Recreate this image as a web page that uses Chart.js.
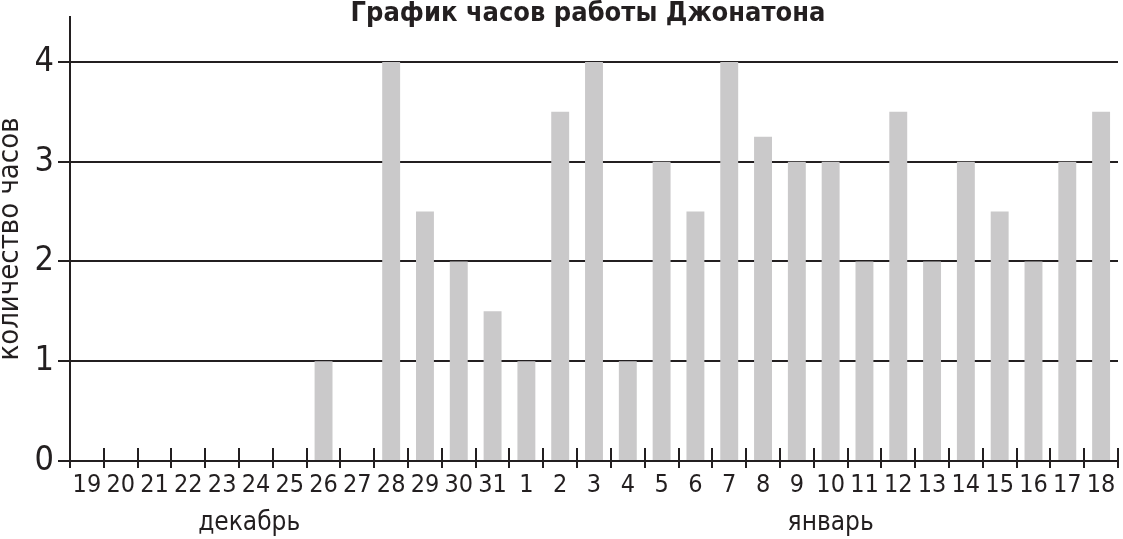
<!DOCTYPE html>
<html>
<head>
<meta charset="utf-8">
<script src="https://cdn.jsdelivr.net/npm/chart.js@4"></script>
<style>
  html, body { margin: 0; padding: 0; background: #fff; }
  #wrap { width: 1123px; height: 539px; }
</style>
</head>
<body>
<div id="wrap"><canvas id="grafico"></canvas></div>
<script>
// дни (декабрь 19-31, январь 1-18)
const dias = ['19','20','21','22','23','24','25','26','27','28','29','30','31',
              '1','2','3','4','5','6','7','8','9','10','11','12','13','14','15','16','17','18'];
const horas = [0, 0, 0, 0, 0, 0, 0, 1, 0, 4, 2.5, 2, 1.5,
               1, 3.5, 4, 1, 3, 2.5, 4, 3.25, 3, 3, 2, 3.5, 2, 3, 2.5, 2, 3, 3.5];
const yTicks = [0, 1, 2, 3, 4];
const meses = ['декабрь', 'январь'];
const mesesPos = [4.8, 22]; // индекс категории под которой стоит подпись
const titulo = 'График часов работы Джонатона';
const tituloY = 'количество часов';

const FONTE = '"DejaVu Sans Condensed", "Liberation Sans", sans-serif';
const COR = '#231f20';

// засечки оси X и подписи месяцев, заголовок
const extras = {
    id: 'extras',
    afterDraw(chart) {
        const ctx = chart.ctx;
        const x = chart.scales.x;
        const area = chart.chartArea;
        ctx.save();
        ctx.strokeStyle = COR;
        ctx.lineWidth = 2;
        for (let i = 0; i <= dias.length; i++) {
            const px = Math.round(x.getPixelForValue(i - 0.5));
            ctx.beginPath();
            ctx.moveTo(px, area.bottom - 13);
            ctx.lineTo(px, area.bottom + 7);
            ctx.stroke();
        }
        ctx.fillStyle = COR;
        ctx.textAlign = 'center';
        ctx.textBaseline = 'middle';
        ctx.font = '26px ' + FONTE;
        meses.forEach((m, i) => {
            ctx.fillText(m, x.getPixelForValue(mesesPos[i]), 523);
        });
        ctx.font = 'bold 27px ' + FONTE;
        ctx.fillText(titulo, 588, 14);
        ctx.restore();
    }
};

const ctx = document.getElementById('grafico');

new Chart(ctx, {
    type: 'bar',
    data: {
        labels: dias,
        datasets: [{
            data: horas,
            backgroundColor: '#cac9ca',
            borderWidth: 0,
            barPercentage: 0.53,
            categoryPercentage: 1
        }]
    },
    options: {
        responsive: true,
        maintainAspectRatio: false,
        animation: false,
        layout: { padding: { top: 17, right: 5, left: 0, bottom: 0 } },
        plugins: {
            legend: { display: false },
            tooltip: { enabled: false }
        },
        scales: {
            x: {
                offset: true,
                grid: { display: false },
                border: { display: false },
                ticks: {
                    color: COR,
                    font: { family: FONTE, size: 25 },
                    padding: 1,
                    maxRotation: 0,
                    autoSkip: false
                },
                afterFit: s => { s.height = 78; }
            },
            y: {
                min: 0,
                max: 4.45,
                z: 1,
                afterBuildTicks: s => { s.ticks = yTicks.map(v => ({ value: v })); },
                grid: {
                    color: COR,
                    lineWidth: 2,
                    tickLength: 12,
                    drawOnChartArea: true
                },
                border: { display: true, color: COR, width: 2 },
                ticks: {
                    color: COR,
                    font: { family: FONTE, size: 34 },
                    padding: 4
                },
                title: {
                    display: true,
                    text: tituloY,
                    color: COR,
                    font: { family: FONTE, size: 29, lineHeight: 0.75 },
                    padding: 0
                },
                afterFit: s => { s.width = 70; s.paddingTop = 0; s.paddingBottom = 0; }
            }
        }
    },
    plugins: [extras]
});
</script>
</body>
</html>
